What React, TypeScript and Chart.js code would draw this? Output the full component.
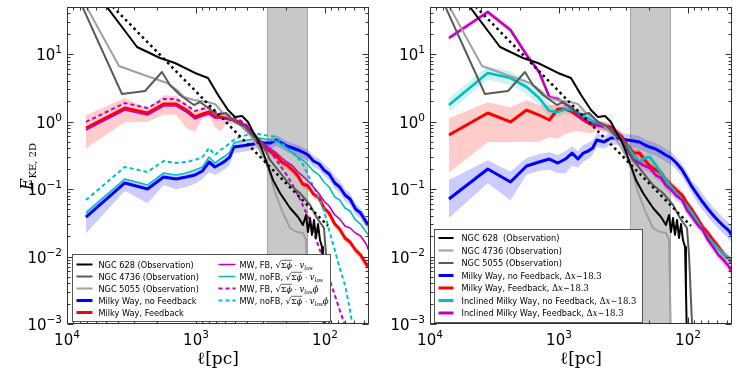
import React, { useEffect, useRef } from "react";
import { Chart, registerables } from "chart.js";
Chart.register(...registerables);

// ---------- DATA ----------
// simulation scales (pc)
const simScalesPc = [7130, 3565, 2377, 1783, 1426, 1188, 1019, 891, 792, 713, 648, 594, 548, 509, 446, 396, 357, 324, 297, 264, 238, 216, 198, 178, 162, 149, 135, 123, 111, 102, 93, 84, 77, 70, 64, 58, 53, 48, 46];

// left panel, log10(E)
const leftNoFbLogE = [-1.415, -0.911, -1.0, -0.822, -0.852, -0.822, -0.793, -0.733, -0.6, -0.674, -0.63, -0.585, -0.526, -0.378, -0.363, -0.348, -0.333, -0.304, -0.319, -0.319, -0.274, -0.319, -0.363, -0.393, -0.422, -0.452, -0.496, -0.585, -0.63, -0.719, -0.778, -0.911, -0.97, -1.089, -1.148, -1.296, -1.356, -1.489, -1.533];
const leftNoFbUp = [0.1, 0.07, 0.07, 0.06, 0.06, 0.06, 0.06, 0.07, 0.06, 0.06, 0.06, 0.06, 0.06, 0.07, 0.07, 0.07, 0.07, 0.07, 0.07, 0.07, 0.07, 0.07, 0.07, 0.07, 0.07, 0.07, 0.07, 0.08, 0.08, 0.09, 0.09, 0.1, 0.1, 0.09, 0.09, 0.08, 0.08, 0.08, 0.08];
const leftNoFbDown = [0.24, 0.12, 0.21, 0.12, 0.15, 0.15, 0.13, 0.12, 0.15, 0.12, 0.12, 0.12, 0.12, 0.09, 0.09, 0.09, 0.09, 0.09, 0.09, 0.09, 0.09, 0.09, 0.09, 0.09, 0.09, 0.09, 0.09, 0.09, 0.09, 0.09, 0.09, 0.09, 0.09, 0.09, 0.09, 0.08, 0.08, 0.08, 0.08];
const leftFbLogE = [-0.096, 0.2, 0.126, 0.259, 0.259, 0.17, 0.067, 0.111, 0.141, 0.067, 0.067, 0.052, 0.037, 0.022, -0.022, -0.096, -0.23, -0.319, -0.378, -0.452, -0.511, -0.6, -0.644, -0.719, -0.807, -0.926, -0.956, -1.074, -1.133, -1.281, -1.356, -1.519, -1.593, -1.726, -1.785, -1.904, -1.978, -2.111, -2.156];
const leftFbUp = [0.19, 0.15, 0.07, 0.13, 0.12, 0.09, 0.07, 0.1, 0.07, 0.06, 0.06, 0.04, 0.04, 0.04, 0.04, 0.04, 0.04, 0.04, 0.04, 0.04, 0.04, 0.04, 0.04, 0.04, 0.04, 0.04, 0.04, 0.04, 0.04, 0.04, 0.04, 0.04, 0.04, 0.04, 0.04, 0.04, 0.06, 0.06, 0.06];
const leftFbDown = [0.3, 0.21, 0.13, 0.16, 0.16, 0.27, 0.22, 0.07, 0.07, 0.15, 0.22, 0.1, 0.07, 0.06, 0.06, 0.06, 0.06, 0.06, 0.06, 0.06, 0.06, 0.06, 0.06, 0.06, 0.06, 0.06, 0.06, 0.06, 0.06, 0.06, 0.06, 0.06, 0.06, 0.06, 0.06, 0.06, 0.07, 0.07, 0.09];
const leftFbLosLogE = [-0.126, 0.17, 0.096, 0.23, 0.23, 0.141, 0.037, 0.081, 0.111, 0.052, 0.052, 0.037, 0.022, 0.007, -0.022, -0.081, -0.185, -0.274, -0.333, -0.407, -0.467, -0.541, -0.6, -0.659, -0.748, -0.807, -0.881, -0.97, -1.074, -1.178, -1.252, -1.385, -1.444, -1.548, -1.578, -1.652, -1.696, -1.815, -1.904];
const leftNoFbLosLogE = [-1.356, -0.852, -0.941, -0.763, -0.793, -0.763, -0.719, -0.674, -0.526, -0.615, -0.556, -0.511, -0.452, -0.319, -0.289, -0.274, -0.259, -0.244, -0.259, -0.274, -0.289, -0.348, -0.393, -0.467, -0.526, -0.57, -0.644, -0.733, -0.793, -0.896, -0.97, -1.119, -1.163, -1.281, -1.326, -1.459, -1.519, -1.637, -1.681];
const leftFbLosPhiLogE = [-0.007, 0.274, 0.2, 0.333, 0.333, 0.244, 0.156, 0.185, 0.215, 0.141, 0.126, 0.111, 0.081, 0.067, 0.007, -0.067, -0.17, -0.274, -0.348, -0.452, -0.57, -0.689, -0.793, -0.941, -1.089, -1.237, -1.415, -1.637, -1.874, -2.081, -2.319, -2.57, -2.793, -3.015, -3.267];
const leftNoFbLosPhiLogE = [-1.163, -0.674, -0.748, -0.585, -0.615, -0.6, -0.57, -0.526, -0.393, -0.496, -0.422, -0.378, -0.319, -0.274, -0.215, -0.2, -0.17, -0.185, -0.2, -0.215, -0.23, -0.319, -0.393, -0.467, -0.541, -0.63, -0.793, -0.97, -1.148, -1.311, -1.607, -1.904, -2.17, -2.422, -2.793, -3.311];

// right panel, log10(E)
const rightNoFbLogE = [-1.148, -0.704, -0.896, -0.659, -0.6, -0.556, -0.615, -0.556, -0.467, -0.556, -0.467, -0.437, -0.393, -0.274, -0.304, -0.244, -0.244, -0.259, -0.274, -0.289, -0.304, -0.348, -0.378, -0.407, -0.452, -0.496, -0.541, -0.615, -0.719, -0.837, -0.97, -1.089, -1.193, -1.296, -1.385, -1.474, -1.548, -1.622, -1.681];
const rightNoFbUp = [0.28, 0.13, 0.15, 0.12, 0.12, 0.1, 0.12, 0.12, 0.1, 0.12, 0.12, 0.12, 0.12, 0.1, 0.09, 0.09, 0.09, 0.09, 0.09, 0.09, 0.09, 0.09, 0.09, 0.09, 0.09, 0.09, 0.09, 0.09, 0.09, 0.09, 0.09, 0.12, 0.12, 0.12, 0.12, 0.12, 0.12, 0.12, 0.12];
const rightNoFbDown = [0.28, 0.21, 0.27, 0.13, 0.13, 0.16, 0.15, 0.21, 0.19, 0.13, 0.13, 0.12, 0.1, 0.1, 0.1, 0.1, 0.1, 0.1, 0.1, 0.1, 0.1, 0.1, 0.1, 0.1, 0.1, 0.1, 0.1, 0.1, 0.1, 0.1, 0.1, 0.12, 0.12, 0.12, 0.12, 0.12, 0.12, 0.12, 0.12];
const rightFbLogE = [-0.2, 0.126, -0.007, 0.17, 0.096, 0.022, 0.185, 0.185, 0.141, 0.081, 0.022, -0.022, -0.052, -0.052, -0.067, -0.081, -0.156, -0.23, -0.348, -0.467, -0.467, -0.57, -0.659, -0.719, -0.763, -0.867, -0.941, -1.015, -1.089, -1.207, -1.311, -1.444, -1.563, -1.652, -1.756, -1.859, -1.963, -2.037, -2.096];
const rightFbUp = [0.25, 0.16, 0.22, 0.15, 0.15, 0.22, 0.07, 0.07, 0.07, 0.07, 0.06, 0.06, 0.06, 0.06, 0.06, 0.06, 0.06, 0.06, 0.06, 0.06, 0.06, 0.06, 0.06, 0.06, 0.06, 0.06, 0.06, 0.06, 0.06, 0.06, 0.06, 0.06, 0.06, 0.06, 0.06, 0.06, 0.06, 0.06, 0.06];
const rightFbDown = [0.56, 0.43, 0.3, 0.47, 0.4, 0.25, 0.44, 0.37, 0.3, 0.22, 0.18, 0.15, 0.12, 0.07, 0.07, 0.07, 0.07, 0.07, 0.07, 0.07, 0.07, 0.07, 0.07, 0.07, 0.07, 0.07, 0.07, 0.07, 0.07, 0.07, 0.07, 0.07, 0.07, 0.07, 0.07, 0.07, 0.07, 0.07, 0.07];
const rightInclNoFbLogE = [0.244, 0.719, 0.644, 0.511, 0.348, 0.156, 0.141, 0.185, 0.17, 0.141, 0.081, 0.052, 0.007, -0.022, -0.067, -0.126, -0.17, -0.274, -0.363, -0.496, -0.6, -0.541, -0.526, -0.644, -0.763, -0.867, -0.97, -1.059, -1.163, -1.252, -1.356, -1.489, -1.607, -1.711, -1.8, -1.889, -1.963, -2.037, -2.081];
const rightInclNoFbSpread = [0.1, 0.1, 0.1, 0.1, 0.1, 0.1, 0.07, 0.07, 0.07, 0.07, 0.07, 0.07, 0.06, 0.06, 0.06, 0.06, 0.06, 0.06, 0.06, 0.06, 0.06, 0.06, 0.06, 0.06, 0.06, 0.06, 0.06, 0.06, 0.06, 0.06, 0.06, 0.06, 0.06, 0.06, 0.06, 0.06, 0.06, 0.06, 0.06];
const rightInclFbLogE = [1.237, 1.622, 1.356, 0.985, 0.733, 0.363, 0.333, 0.259, 0.2, 0.096, 0.037, -0.007, -0.037, -0.052, -0.081, -0.126, -0.2, -0.274, -0.422, -0.57, -0.615, -0.659, -0.689, -0.793, -0.837, -0.941, -1.015, -1.104, -1.163, -1.311, -1.415, -1.533, -1.607, -1.756, -1.859, -1.978, -2.052, -2.156, -2.23];
const rightInclFbSpread = [0.04, 0.04, 0.04, 0.04, 0.04, 0.04, 0.04, 0.04, 0.04, 0.04, 0.04, 0.04, 0.04, 0.07, 0.07, 0.07, 0.07, 0.07, 0.07, 0.07, 0.07, 0.07, 0.07, 0.07, 0.07, 0.07, 0.07, 0.07, 0.07, 0.07, 0.07, 0.07, 0.07, 0.07, 0.07, 0.07, 0.07, 0.07, 0.07];

// observations: log10(ℓ/pc), log10(E)
const ngc628LogL = [3.86, 3.457, 3.279, 3.163, 3.008, 2.907, 2.829, 2.752, 2.698, 2.643, 2.597, 2.558, 2.519, 2.481, 2.45, 2.403, 2.349, 2.271, 2.209, 2.171, 2.147, 2.132, 2.116, 2.101, 2.085, 2.07, 2.054, 2.039, 2.023, 2.016, 2.008];
const ngc628LogE = [2.126, 1.104, 0.941, 0.867, 0.719, 0.644, 0.393, 0.17, 0.067, 0.081, -0.007, -0.156, -0.274, -0.452, -0.615, -0.867, -1.059, -1.281, -1.415, -1.533, -1.385, -1.637, -1.43, -1.681, -1.459, -1.726, -1.519, -1.756, -1.859, -2.496, -3.237];
const obsDarkLogL = [3.915, 3.574, 3.395, 3.264, 3.202, 3.124, 3.016, 2.969, 2.915, 2.837, 2.767, 2.698, 2.62, 2.566, 2.504, 2.426, 2.364, 2.271, 2.194, 2.116, 2.062, 2.008, 1.992, 1.977, 1.961];
const obsDarkLogE = [1.844, 0.407, 0.452, 0.733, 0.541, 0.393, 0.244, 0.289, 0.215, 0.096, 0.126, -0.007, -0.081, -0.2, -0.274, -0.57, -0.719, -0.941, -1.059, -1.237, -1.43, -1.578, -1.978, -2.644, -3.311];
const obsLightLogL = [3.899, 3.597, 3.403, 3.225, 3.147, 3.093, 3.016, 2.915, 2.853, 2.798, 2.736, 2.659, 2.581, 2.519, 2.465, 2.426, 2.388, 2.326, 2.271, 2.217, 2.171, 2.147, 2.14, 2.132];
const obsLightLogE = [1.874, 0.822, 0.689, 0.57, 0.467, 0.363, 0.319, 0.289, 0.259, 0.141, 0.052, -0.052, -0.2, -0.378, -0.57, -0.793, -1.044, -1.356, -1.578, -1.637, -1.652, -1.756, -2.496, -3.311];
const refSlopeLogL = [3.744, 1.977];
const refSlopeLogE = [1.893, -1.548];

const resolutionBandPc = [282, 135.6];
const xMajorTicks = [1e2, 1e3, 1e4];
const yMajorTicks = [1e-3, 1e-2, 1e-1, 1e0, 1e1];

// ---------- STYLE ----------
const BLUE = "#0000ff";
const RED = "#ff0000";
const MAG = "#bf00bf";
const CYAN = "#00bfbf";
const DARK = "#5a5a5a";
const LIGHT = "#a0a0a0";
const SANS = "'DejaVu Sans', sans-serif";
const SERIF = "'DejaVu Serif', serif";
const LEG = `8.2px ${SANS}`;

type Seg = { t: string; f: string; dy?: number; over?: boolean };

function drawSegs(ctx: CanvasRenderingContext2D, segs: Seg[], x: number, y: number) {
  let cx = x;
  for (const s of segs) {
    ctx.font = s.f;
    ctx.fillText(s.t, cx, y + (s.dy || 0));
    const w = ctx.measureText(s.t).width;
    if (s.over) {
      ctx.save();
      ctx.lineWidth = 0.6;
      ctx.strokeStyle = "#000";
      ctx.beginPath();
      ctx.moveTo(cx, y - 7.2);
      ctx.lineTo(cx + w, y - 7.2);
      ctx.stroke();
      ctx.restore();
    }
    cx += w;
  }
  return cx - x;
}
function segsWidth(ctx: CanvasRenderingContext2D, segs: Seg[]) {
  let w = 0;
  for (const s of segs) {
    ctx.font = s.f;
    w += ctx.measureText(s.t).width;
  }
  return w;
}

const txt = (t: string): Seg => ({ t, f: LEG });
const sqrtPart = (phi: boolean): Seg[] => [
  { t: "√", f: `8.5px ${SERIF}` },
  { t: "Σ", f: `8px ${SERIF}`, over: true },
  { t: "ϕ", f: `italic 8px ${SERIF}`, over: true },
  { t: " · ", f: `8px ${SERIF}` },
  { t: "v", f: `italic 8.5px ${SERIF}` },
  { t: "los", f: `italic 5.8px ${SERIF}`, dy: 2 },
  ...(phi ? [{ t: "ϕ", f: `italic 8.5px ${SERIF}` }] : []),
];
const dxPart: Seg[] = [
  { t: " Δ", f: `8.5px ${SERIF}` },
  { t: "x", f: `italic 8.5px ${SERIF}` },
  { t: "∼", f: `8.5px ${SERIF}` },
  { t: "18.3", f: `8.5px ${SERIF}` },
];

type LegItem = { color: string; width: number; dash?: number[]; segs: Seg[]; col: number; row: number };
type LegendSpec = {
  dx: number; dyFromBottom: number; w: number; h: number;
  rowStart: number; rowStep: number;
  cols: { l0: number; l1: number; tx: number }[];
  items: LegItem[];
};

const leftLegend: LegendSpec = {
  dx: 5, dyFromBottom: 70, w: 258, h: 67, rowStart: 10, rowStep: 12,
  cols: [{ l0: 4, l1: 20, tx: 26 }, { l0: 146, l1: 163, tx: 167 }],
  items: [
    { color: "#000", width: 2, segs: [txt("NGC 628 (Observation)")], col: 0, row: 0 },
    { color: DARK, width: 2, segs: [txt("NGC 4736 (Observation)")], col: 0, row: 1 },
    { color: LIGHT, width: 2, segs: [txt("NGC 5055 (Observation)")], col: 0, row: 2 },
    { color: BLUE, width: 3, segs: [txt("Milky Way, no Feedback")], col: 0, row: 3 },
    { color: RED, width: 3, segs: [txt("Milky Way, Feedback")], col: 0, row: 4 },
    { color: MAG, width: 1.5, segs: [txt("MW, FB, "), ...sqrtPart(false)], col: 1, row: 0 },
    { color: CYAN, width: 1.5, segs: [txt("MW, noFB, "), ...sqrtPart(false)], col: 1, row: 1 },
    { color: MAG, width: 2, dash: [4, 3], segs: [txt("MW, FB, "), ...sqrtPart(true)], col: 1, row: 2 },
    { color: CYAN, width: 2, dash: [4, 3], segs: [txt("MW, noFB, "), ...sqrtPart(true)], col: 1, row: 3 },
  ],
};

const rightLegend: LegendSpec = {
  dx: 4, dyFromBottom: 95, w: 208, h: 93, rowStart: 8.5, rowStep: 12.5,
  cols: [{ l0: 4, l1: 19, tx: 27 }],
  items: [
    { color: "#000", width: 2, segs: [txt("NGC 628  (Observation)")], col: 0, row: 0 },
    { color: LIGHT, width: 2, segs: [txt("NGC 4736 (Observation)")], col: 0, row: 1 },
    { color: DARK, width: 2, segs: [txt("NGC 5055 (Observation)")], col: 0, row: 2 },
    { color: BLUE, width: 3, segs: [txt("Milky Way, no Feedback,"), ...dxPart], col: 0, row: 3 },
    { color: RED, width: 3, segs: [txt("Milky Way, Feedback,"), ...dxPart], col: 0, row: 4 },
    { color: CYAN, width: 3, segs: [txt("Inclined Milky Way, no Feedback,"), ...dxPart], col: 0, row: 5 },
    { color: MAG, width: 3, segs: [txt("Inclined Milky Way, Feedback,"), ...dxPart], col: 0, row: 6 },
  ],
};

// ---------- DATASET HELPERS ----------
function lineDs(xs: number[], logE: number[], color: string, width: number, order: number, dash?: number[]) {
  return {
    data: logE.map((e, i) => ({ x: xs[i], y: Math.pow(10, e) })),
    borderColor: color,
    backgroundColor: color,
    borderWidth: width,
    borderDash: dash || [],
    borderJoinStyle: "round",
    pointRadius: 0,
    pointHoverRadius: 0,
    pointHitRadius: 0,
    fill: false,
    tension: 0,
    order,
    clip: 0,
  };
}
function bandDs(xs: number[], logE: number[], up: number[], down: number[], color: string) {
  const base = { borderWidth: 0, borderColor: "rgba(0,0,0,0)", pointRadius: 0, pointHoverRadius: 0, tension: 0, order: 50, clip: 0 };
  return [
    { ...base, data: logE.map((e, i) => ({ x: xs[i], y: Math.pow(10, e - down[i]) })), fill: false },
    { ...base, data: logE.map((e, i) => ({ x: xs[i], y: Math.pow(10, e + up[i]) })), fill: "-1", backgroundColor: color },
  ];
}
const fromLog = (a: number[]) => a.map((v) => Math.pow(10, v));

function obsDatasets(darkColor: string, lightColor: string) {
  return [
    lineDs(fromLog(refSlopeLogL), refSlopeLogE, "#000", 2.5, 0, [2.5, 3.5]),
    lineDs(fromLog(ngc628LogL), ngc628LogE, "#000", 2, 1),
    lineDs(fromLog(obsDarkLogL), obsDarkLogE, darkColor, 2, 2),
    lineDs(fromLog(obsLightLogL), obsLightLogE, lightColor, 2, 3),
  ];
}

function leftDatasets() {
  const xs = simScalesPc;
  return [
    ...bandDs(xs, leftNoFbLogE, leftNoFbUp, leftNoFbDown, "rgba(0,0,255,0.2)"),
    ...bandDs(xs, leftFbLogE, leftFbUp, leftFbDown, "rgba(255,0,0,0.2)"),
    ...obsDatasets(DARK, LIGHT),
    lineDs(xs, leftFbLosLogE, MAG, 1.6, 6),
    lineDs(xs, leftNoFbLosLogE, CYAN, 1.6, 6),
    lineDs(xs, leftFbLosPhiLogE, MAG, 2, 6, [4, 3]),
    lineDs(xs, leftNoFbLosPhiLogE, CYAN, 2, 6, [4, 3]),
    lineDs(xs, leftFbLogE, RED, 3, 7),
    lineDs(xs, leftNoFbLogE, BLUE, 3, 7),
  ];
}
function rightDatasets() {
  const xs = simScalesPc;
  return [
    ...bandDs(xs, rightNoFbLogE, rightNoFbUp, rightNoFbDown, "rgba(0,0,255,0.2)"),
    ...bandDs(xs, rightFbLogE, rightFbUp, rightFbDown, "rgba(255,0,0,0.2)"),
    ...bandDs(xs, rightInclNoFbLogE, rightInclNoFbSpread, rightInclNoFbSpread, "rgba(0,191,191,0.2)"),
    ...bandDs(xs, rightInclFbLogE, rightInclFbSpread, rightInclFbSpread, "rgba(191,0,191,0.2)"),
    ...obsDatasets(DARK, LIGHT),
    lineDs(xs, rightInclFbLogE, MAG, 2.6, 5),
    lineDs(xs, rightInclNoFbLogE, CYAN, 2.6, 6),
    lineDs(xs, rightFbLogE, RED, 3, 7),
    lineDs(xs, rightNoFbLogE, BLUE, 3, 7),
  ];
}

// ---------- DECORATION PLUGIN ----------
function drawPow(ctx: CanvasRenderingContext2D, exp: number, x: number, y: number, align: "center" | "right") {
  const base = "10";
  const e = exp < 0 ? "−" + String(-exp) : String(exp);
  const fb = `15px ${SANS}`;
  const fe = `10.5px ${SANS}`;
  ctx.font = fb;
  const wb = ctx.measureText(base).width;
  ctx.font = fe;
  const we = ctx.measureText(e).width;
  const total = wb + we;
  const x0 = align === "center" ? x - total / 2 : x - total;
  ctx.font = fb;
  ctx.fillText(base, x0, y);
  ctx.font = fe;
  ctx.fillText(e, x0 + wb, y - 7);
}

function makeDeco(legend: LegendSpec, yTitle: boolean) {
  return {
    id: "deco",
    beforeDraw(chart: any) {
      const { ctx, chartArea: a } = chart;
      const xs = chart.scales.x;
      const p1 = xs.getPixelForValue(resolutionBandPc[0]);
      const p2 = xs.getPixelForValue(resolutionBandPc[1]);
      const l = Math.min(p1, p2);
      const r = Math.max(p1, p2);
      ctx.save();
      ctx.fillStyle = "#c8c8c8";
      ctx.fillRect(l, a.top, r - l, a.bottom - a.top);
      ctx.strokeStyle = "#a5a5a5";
      ctx.lineWidth = 1;
      ctx.beginPath();
      ctx.moveTo(Math.round(l) + 0.5, a.top);
      ctx.lineTo(Math.round(l) + 0.5, a.bottom);
      ctx.moveTo(Math.round(r) - 0.5, a.top);
      ctx.lineTo(Math.round(r) - 0.5, a.bottom);
      ctx.stroke();
      ctx.restore();
    },
    afterDraw(chart: any) {
      const { ctx, chartArea: a } = chart;
      const xs = chart.scales.x;
      const ys = chart.scales.y;
      ctx.save();
      // frame
      ctx.strokeStyle = "#333";
      ctx.lineWidth = 1;
      const L = Math.round(a.left) + 0.5;
      const R = Math.round(a.right) - 0.5;
      const T = Math.round(a.top) + 0.5;
      const B = Math.round(a.bottom) - 0.5;
      ctx.strokeRect(L, T, R - L, B - T);
      // ticks
      ctx.beginPath();
      for (const major of xMajorTicks.concat([10])) {
        for (let m = 1; m <= 9; m++) {
          const v = major * m;
          if (v < xs.min || v > xs.max) continue;
          const px = Math.round(xs.getPixelForValue(v)) + 0.5;
          const len = m === 1 ? 6 : 3;
          ctx.moveTo(px, B);
          ctx.lineTo(px, B - len);
          ctx.moveTo(px, T);
          ctx.lineTo(px, T + len);
        }
      }
      for (const major of yMajorTicks) {
        for (let m = 1; m <= 9; m++) {
          const v = major * m;
          if (v < ys.min || v > ys.max * 1.0001) continue;
          const py = Math.round(ys.getPixelForValue(v)) + 0.5;
          const len = m === 1 ? 6 : 3;
          ctx.moveTo(L, py);
          ctx.lineTo(L + len, py);
          ctx.moveTo(R, py);
          ctx.lineTo(R - len, py);
        }
      }
      ctx.stroke();
      // tick labels
      ctx.fillStyle = "#000";
      ctx.textBaseline = "alphabetic";
      ctx.textAlign = "left";
      for (const v of xMajorTicks) {
        const px = xs.getPixelForValue(v);
        drawPow(ctx, Math.round(Math.log10(v)), px, a.bottom + 21, "center");
      }
      for (const v of yMajorTicks) {
        const py = ys.getPixelForValue(v);
        drawPow(ctx, Math.round(Math.log10(v)), a.left - 5, py + 6, "right");
      }
      // x title
      const xt: Seg[] = [
        { t: "ℓ", f: `17px ${SERIF}` },
        { t: "[pc]", f: `17px ${SERIF}` },
      ];
      const wx = segsWidth(ctx, xt);
      drawSegs(ctx, xt, (a.left + a.right) / 2 - wx / 2, a.bottom + 40);
      // y title
      if (yTitle) {
        const yt: Seg[] = [
          { t: "E", f: `italic 16px ${SERIF}` },
          { t: "KE, 2D", f: `10px ${SERIF}`, dy: 3.5 },
        ];
        const wy = segsWidth(ctx, yt);
        ctx.save();
        ctx.translate(32, (a.top + a.bottom) / 2 + 1);
        ctx.rotate(-Math.PI / 2);
        drawSegs(ctx, yt, -wy / 2, 0);
        ctx.restore();
      }
      // legend
      const bx = Math.round(a.left + legend.dx) + 0.5;
      const by = Math.round(a.bottom - legend.dyFromBottom) + 0.5;
      ctx.fillStyle = "#fff";
      ctx.fillRect(bx, by, legend.w, legend.h);
      ctx.strokeStyle = "#555";
      ctx.lineWidth = 1;
      ctx.strokeRect(bx, by, legend.w, legend.h);
      for (const it of legend.items) {
        const c = legend.cols[it.col];
        const ry = by + legend.rowStart + legend.rowStep * it.row;
        ctx.save();
        ctx.strokeStyle = it.color;
        ctx.lineWidth = it.width;
        ctx.setLineDash(it.dash || []);
        ctx.beginPath();
        ctx.moveTo(bx + c.l0, ry);
        ctx.lineTo(bx + c.l1, ry);
        ctx.stroke();
        ctx.restore();
        ctx.fillStyle = "#000";
        drawSegs(ctx, it.segs, bx + c.tx, ry + 3);
      }
      ctx.restore();
    },
  };
}

// ---------- COMPONENTS ----------
type PanelProps = {
  left: number;
  width: number;
  pad: { left: number; right: number; top: number; bottom: number };
  datasets: () => any[];
  legend: LegendSpec;
  yTitle: boolean;
};

function Panel(props: PanelProps) {
  const ref = useRef<HTMLCanvasElement | null>(null);
  useEffect(() => {
    if (!ref.current) return;
    const chart = new Chart(ref.current, {
      type: "line",
      data: { datasets: props.datasets() as any },
      options: {
        animation: false,
        responsive: false,
        devicePixelRatio: 1,
        layout: { padding: props.pad },
        events: [],
        scales: {
          x: { type: "logarithmic", min: 45.6, max: 10000, reverse: true, display: false },
          y: { type: "logarithmic", min: 0.001, max: 49.7, display: false },
        },
        plugins: {
          legend: { display: false },
          tooltip: { enabled: false },
          filler: { propagate: false, drawTime: "beforeDatasetsDraw" },
        } as any,
      },
      plugins: [makeDeco(props.legend, props.yTitle) as any],
    });
    return () => chart.destroy();
  }, []);
  return (
    <canvas
      ref={ref}
      width={props.width}
      height={374}
      style={{ position: "absolute", left: props.left, top: 0, width: props.width, height: 374 }}
    />
  );
}

export default function App() {
  return (
    <div style={{ position: "fixed", left: 0, top: 0, width: 747, height: 374, background: "#fff", overflow: "hidden" }}>
      <Panel
        left={0}
        width={373}
        pad={{ left: 67, right: 4, top: 7, bottom: 50 }}
        datasets={leftDatasets}
        legend={leftLegend}
        yTitle={true}
      />
      <Panel
        left={373}
        width={374}
        pad={{ left: 57, right: 15, top: 7, bottom: 50 }}
        datasets={rightDatasets}
        legend={rightLegend}
        yTitle={false}
      />
    </div>
  );
}
